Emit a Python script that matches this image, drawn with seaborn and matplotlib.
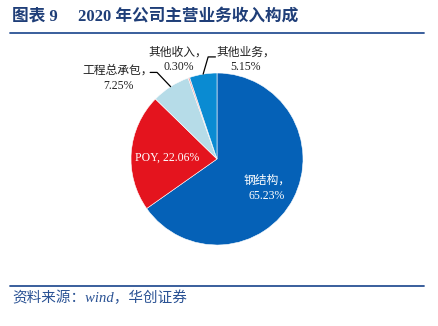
import numpy as np
import matplotlib
matplotlib.use("Agg")
import matplotlib.pyplot as plt
import seaborn as sns

categories = ["钢结构", "POY", "工程总承包", "其他收入", "其他业务"]
values = [65.23, 22.06, 7.25, 0.30, 5.15]
colors = ["#0561B7", "#E4141E", "#B6DCE8", "#F2A4A4", "#0A8BD2"]
title_num = "图表 9"
title_text = "2020 年公司主营业务收入构成"
source_text = "资料来源：wind，华创证券"

sns.set_theme(style="white")
plt.rcParams["font.family"] = ["Liberation Serif", "Noto Sans CJK SC", "DejaVu Sans"]

W, H = 439, 326
fig = plt.figure(figsize=(W / 100, H / 100), dpi=100)
fig.patch.set_facecolor("white")

navy = "#1F3E78"
# title and rules
fig.text(12 / W, 1 - 16 / H, title_num, fontsize=12, fontweight="bold",
         color=navy, ha="left", va="center")
fig.text(78 / W, 1 - 16 / H, title_text, fontsize=12, fontweight="bold",
         color=navy, ha="left", va="center")
fig.add_artist(plt.Line2D([10 / W, 424 / W], [1 - 32.5 / H, 1 - 32.5 / H],
                          color="#2A5294", lw=1.3))
fig.add_artist(plt.Line2D([10 / W, 424 / W], [1 - 285.5 / H, 1 - 285.5 / H],
                          color="#2A5294", lw=1.3))
fig.text(12 / W, 1 - 298 / H, source_text, fontsize=10.5, style="italic",
         color="#2A5294", ha="left", va="center")

cx, cy, r = 217, 159, 86
ax = fig.add_axes([(cx - r) / W, (H - cy - r) / H, 2 * r / W, 2 * r / H])
wedges, _ = ax.pie(values, colors=colors, startangle=90, counterclock=False,
                   radius=1.0, wedgeprops=dict(edgecolor="white", linewidth=0.4))
ax.set_xlim(-1, 1)
ax.set_ylim(-1, 1)
ax.set_aspect("equal")
ax.axis("off")

def mid(w):
    return np.deg2rad((w.theta1 + w.theta2) / 2)

# inside labels
lab_fs = 8.5
for i, (dx, dy) in [(0, (0.58, -0.34)), (1, (-0.585, 0.01))]:
    if i == 0:
        txt = f"{categories[i]}，\n{values[i]:.2f}%"
    else:
        txt = f"{categories[i]}, {values[i]:.2f}%"
    ax.text(dx, dy, txt, color="white", fontsize=lab_fs, ha="center",
            va="center", linespacing=1.45)

# outside labels
outside = {
    2: dict(text=(-1.15, 0.94), elbow=(-0.157, 0.165), hlen=-0.08),
    3: dict(text=(-0.45, 1.15), elbow=None, hlen=0),
    4: dict(text=(0.33, 1.15), elbow=(0.058, 0.2), hlen=0.085),
}
for i, o in outside.items():
    ax.text(o["text"][0], o["text"][1], f"{categories[i]}，\n{values[i]:.2f}%",
            color="#222222", fontsize=lab_fs, ha="center", va="center",
            linespacing=1.3, clip_on=False)
    if o["elbow"] is not None:
        a = mid(wedges[i])
        ex, ey = np.cos(a), np.sin(a)
        bx, by = ex + o["elbow"][0], ey + o["elbow"][1]
        ax.plot([ex, bx, bx + o["hlen"]], [ey, by, by], color="black",
                lw=0.9, clip_on=False)

fig.savefig("out.png", dpi=100, facecolor="white")
